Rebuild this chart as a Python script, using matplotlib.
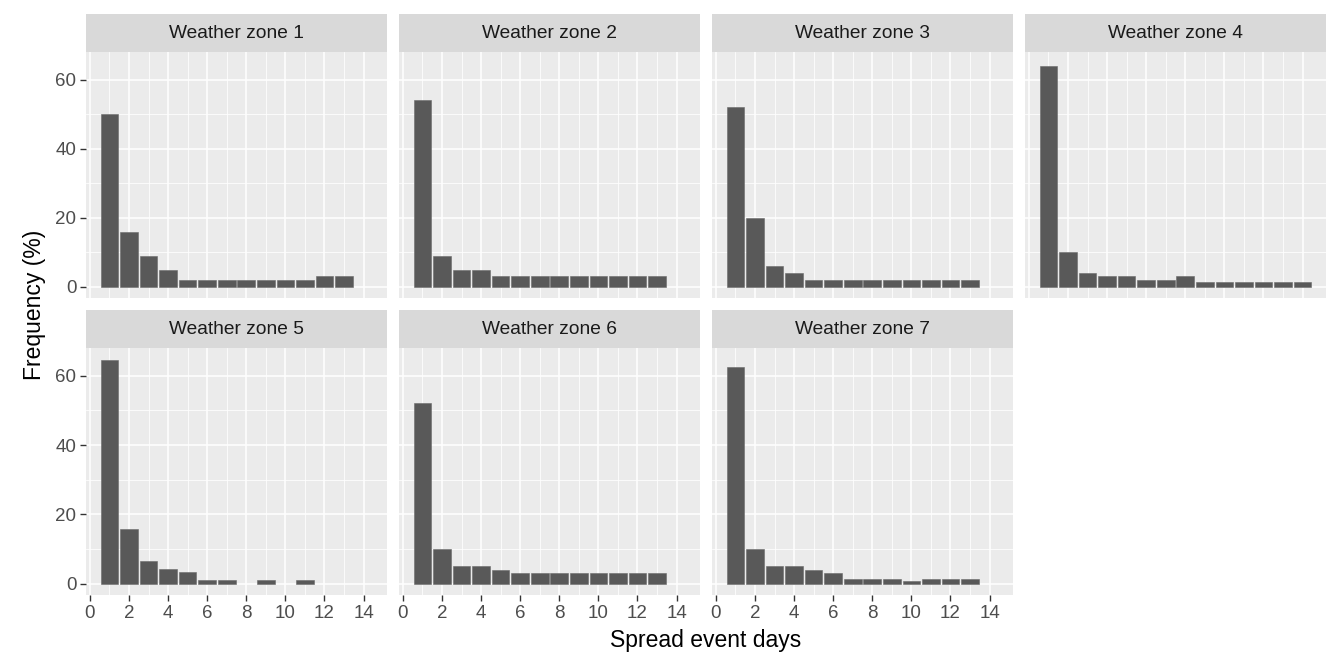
import numpy as np
import matplotlib.pyplot as plt

plt.rcParams['font.family'] = ['Liberation Sans', 'DejaVu Sans']

# spread event length (days) and frequency (%) for each zone
days = list(range(1, 15))
zone1 = [50, 16, 9, 5, 2, 2, 2, 2, 2, 2, 2, 3, 3]
zone2 = [54, 9, 5, 5, 3, 3, 3, 3, 3, 3, 3, 3, 3]
zone3 = [52, 20, 6, 4, 2, 2, 2, 2, 2, 2, 2, 2, 2]
zone4 = [64, 10, 4, 3, 3, 2, 2, 3, 1.3, 1.3, 1.3, 1.3, 1.3, 1.3]
zone5 = [64.5, 15.7, 6.6, 4.3, 3.3, 1, 1, 0, 1, 0, 1, 0, 0]
zone6 = [52, 10, 5, 5, 4, 3, 3, 3, 3, 3, 3, 3, 3]
zone7 = [62.6, 10, 5, 5, 4, 3, 1.3, 1.3, 1.3, 0.9, 1.3, 1.3, 1.3]
zones = [zone1, zone2, zone3, zone4, zone5, zone6, zone7]
titles = ["Weather zone %d" % (i + 1) for i in range(7)]

W, H = 1330, 658
fig = plt.figure(figsize=(W / 100, H / 100), dpi=100)

col_x = [86, 399, 712, 1025]
pw = 301
rows = [(14, 52, 298), (310, 348, 595)]   # strip top, panel top, panel bottom

def frac(x0, y0, x1, y1):
    return [x0 / W, 1 - y1 / H, (x1 - x0) / W, (y1 - y0) / H]

for i, vals in enumerate(zones):
    r, c = divmod(i, 4)
    st, pt, pb = rows[r]
    x0 = col_x[c]

    # facet strip
    sax = fig.add_axes(frac(x0, st, x0 + pw, pt))
    sax.set_facecolor('#D9D9D9')
    sax.set_xticks([]); sax.set_yticks([])
    for s in sax.spines.values():
        s.set_visible(False)
    sax.text(0.5, 0.5, titles[i], ha='center', va='center',
             fontsize=13.8, color='#1A1A1A', transform=sax.transAxes)

    ax = fig.add_axes(frac(x0, pt, x0 + pw, pb))
    ax.set_facecolor('#EBEBEB')
    for s in ax.spines.values():
        s.set_visible(False)
    h = [v if v > 0 else np.nan for v in vals]
    ax.bar(days[:len(vals)], h, width=0.9, color='#595959',
           edgecolor='#6a6a6a', linewidth=0.4, zorder=3)
    ax.set_xlim(-0.2, 15.2)
    ax.set_ylim(-3.24, 68.0)
    ax.set_xticks(range(0, 15, 2))
    ax.set_xticks(range(1, 15, 2), minor=True)
    ax.set_yticks([0, 20, 40, 60])
    ax.set_yticks([10, 30, 50], minor=True)
    ax.grid(which='major', color='white', linewidth=1.1, zorder=0)
    ax.grid(which='minor', color='white', linewidth=0.55, zorder=0)
    ax.set_axisbelow(True)
    ax.tick_params(which='minor', length=0)
    ax.tick_params(which='major', length=4, width=1, color='#333333',
                   labelsize=13.5, labelcolor='#4D4D4D', pad=3)
    if c != 0:
        ax.tick_params(axis='y', length=0, labelleft=False)
    if r == 0:
        ax.tick_params(axis='x', length=0, labelbottom=False)

fig.text(706 / W, 1 - 640 / H, "Spread event days", ha='center', va='center',
         fontsize=16.5, color='black')
fig.text(35 / W, 1 - 305 / H, "Frequency (%)", ha='center', va='center',
         rotation=90, fontsize=16.5, color='black')

fig.savefig('out.png', dpi=100, facecolor='white')
